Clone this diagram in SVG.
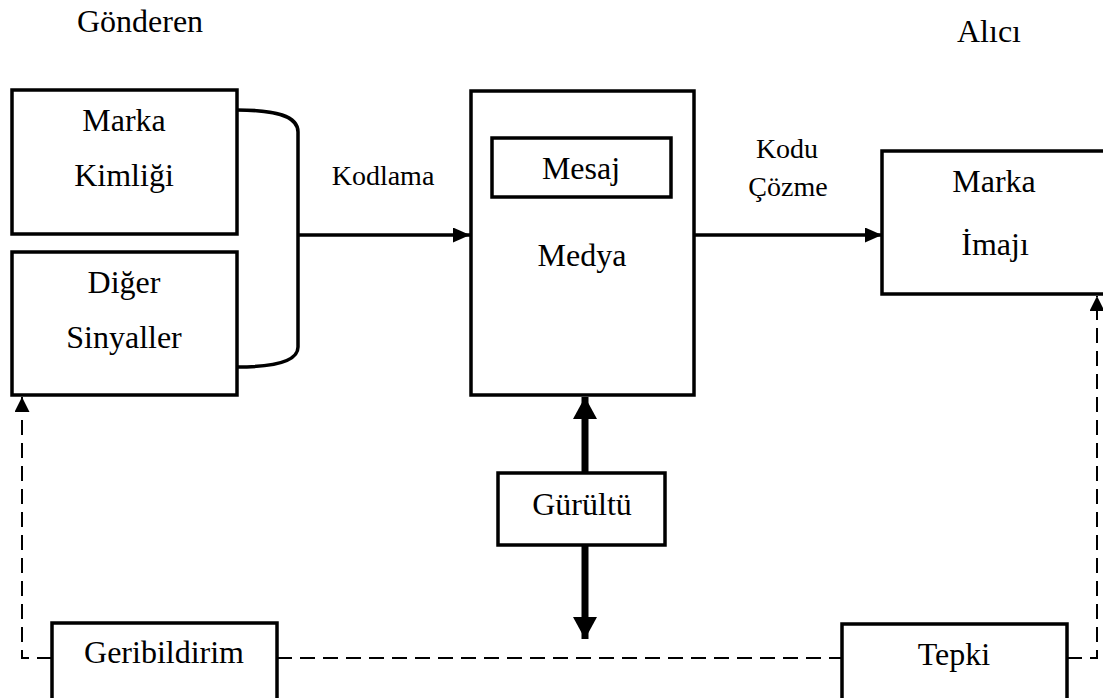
<svg xmlns="http://www.w3.org/2000/svg" width="1103" height="698" viewBox="0 0 1103 698">
  <style>
    .box { fill: #fff; stroke: #000; stroke-width: 3.5; }
    text { font-family: 'Liberation Serif', 'Times New Roman', Times, serif; fill: #000; text-anchor: middle; }
    .t { font-size: 32px; }
    .s { font-size: 28px; }
    .line { fill: none; stroke: #000; stroke-width: 3.5; }
    .dash { fill: none; stroke: #000; stroke-width: 2; stroke-dasharray: 15 8; }
    .thick { fill: none; stroke: #000; stroke-width: 7; }
  </style>
  <defs>
    <marker id="arr" viewBox="0 0 10 10" refX="10" refY="5" markerWidth="17" markerHeight="15" markerUnits="userSpaceOnUse" orient="auto" preserveAspectRatio="none">
      <path d="M0,0 L10,5 L0,10 Z" fill="#000"/>
    </marker>
    <marker id="arrS" viewBox="0 0 10 10" refX="10" refY="5" markerWidth="15" markerHeight="15" markerUnits="userSpaceOnUse" orient="auto" preserveAspectRatio="none">
      <path d="M0,0 L10,5 L0,10 Z" fill="#000"/>
    </marker>
    <marker id="arrB" viewBox="0 0 10 10" refX="10" refY="5" markerWidth="22" markerHeight="24" markerUnits="userSpaceOnUse" orient="auto" preserveAspectRatio="none">
      <path d="M0,0 L10,5 L0,10 Z" fill="#000"/>
    </marker>
  </defs>

  <!-- side headings -->
  <text class="t" x="140" y="32">Gönderen</text>
  <text class="t" x="989" y="42">Alıcı</text>

  <!-- connectors -->
  <g id="connectors">
    <path class="line" d="M237 110 C276 110 298 116 298 132 V347 C298 361 276 367 237 367"/>
    <path class="line" d="M298 235 H470" marker-end="url(#arr)"/>
    <path class="line" d="M694 235 H882" marker-end="url(#arr)"/>
    <path class="thick" d="M585 473 V397" marker-end="url(#arrB)"/>
    <path class="thick" d="M585 545 V639" marker-end="url(#arrB)"/>
    <path class="dash" d="M52 658 H22 V397" marker-end="url(#arrS)"/>
    <path class="dash" d="M277 658 H842"/>
    <path class="dash" d="M1067 658 H1097 V296" marker-end="url(#arrS)"/>
    <text class="s" x="383" y="185">Kodlama</text>
    <text class="s" x="787" y="158">Kodu</text>
    <text class="s" x="788" y="196">Çözme</text>
  </g>

  <g id="marka-kimligi">
    <rect class="box" x="12" y="90" width="225" height="144"/>
    <text class="t" x="124" y="131">Marka</text>
    <text class="t" x="124" y="186">Kimliği</text>
  </g>

  <g id="diger-sinyaller">
    <rect class="box" x="12" y="252" width="225" height="143"/>
    <text class="t" x="124" y="293">Diğer</text>
    <text class="t" x="124" y="348">Sinyaller</text>
  </g>

  <g id="medya">
    <rect class="box" x="471" y="91" width="223" height="304"/>
    <text class="t" x="582" y="266">Medya</text>
  </g>

  <g id="mesaj">
    <rect class="box" x="492" y="138" width="179" height="59"/>
    <text class="t" x="581" y="179">Mesaj</text>
  </g>

  <g id="marka-imaji">
    <rect class="box" x="882" y="151" width="225" height="143"/>
    <text class="t" x="994" y="192">Marka</text>
    <text class="t" x="995" y="255">İmajı</text>
  </g>

  <g id="gurultu">
    <rect class="box" x="498" y="473" width="167" height="72"/>
    <text class="t" x="582" y="515">Gürültü</text>
  </g>

  <g id="geribildirim">
    <rect class="box" x="52" y="623" width="225" height="80"/>
    <text class="t" x="164" y="663">Geribildirim</text>
  </g>

  <g id="tepki">
    <rect class="box" x="842" y="624" width="225" height="80"/>
    <text class="t" x="954" y="665">Tepki</text>
  </g>
</svg>
